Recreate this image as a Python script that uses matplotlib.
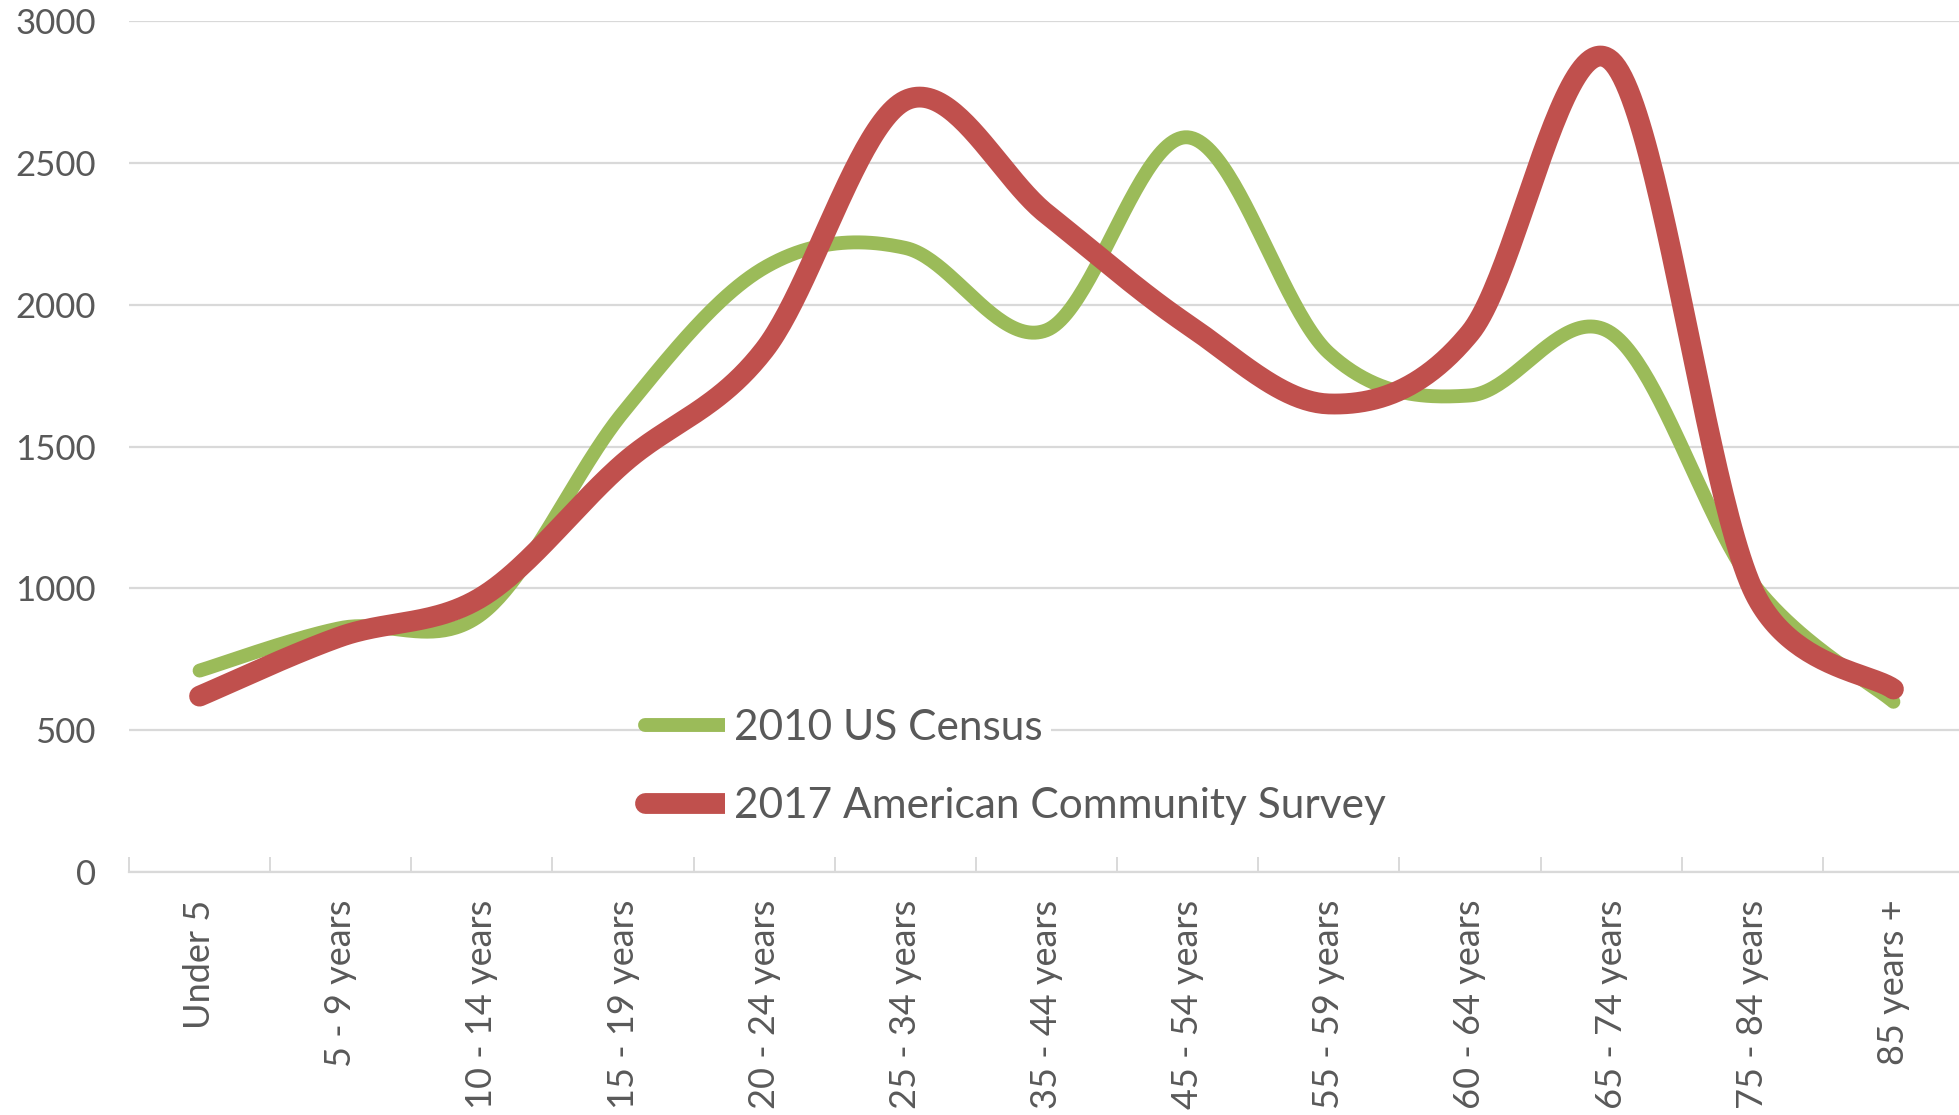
import numpy as np
import matplotlib
matplotlib.use("Agg")
import matplotlib.pyplot as plt
from matplotlib.ticker import FixedLocator

# ---- data ----
categories = ["Under 5", "5 - 9 years", "10 - 14 years", "15 - 19 years",
              "20 - 24 years", "25 - 34 years", "35 - 44 years", "45 - 54 years",
              "55 - 59 years", "60 - 64 years", "65 - 74 years", "75 - 84 years",
              "85 years +"]
census_2010 = [710, 860, 910, 1620, 2130, 2200, 1910, 2590, 1830, 1680, 1900, 1020, 600]
acs_2017 = [620, 830, 970, 1440, 1840, 2720, 2320, 1930, 1650, 1900, 2860, 1000, 645]
series_names = ["2010 US Census", "2017 American Community Survey"]
y_ticks = [0, 500, 1000, 1500, 2000, 2500, 3000]

GREEN = "#9BBB59"
RED = "#C0504D"
TEXT = "#595959"
GRID = "#D9D9D9"

plt.rcParams['font.family'] = ['Lato', 'DejaVu Sans']

W, H = 1959, 1115
left_px, right_px, top_px, bottom_px = 129, 1964, 21, 872
YMAX = 3000
NCAT = len(categories)
SX = (right_px - left_px) / NCAT      # pixels per category
SY = (bottom_px - top_px) / YMAX      # pixels per unit


def smooth(xs, ys, n=50):
    """Excel-like smoothed line: cubic Bezier segments, control points limited
    to half the segment length (computed in screen space)."""
    P = np.column_stack([np.asarray(xs, float) * SX, np.asarray(ys, float) * SY])
    m = len(P)
    t = np.linspace(0, 1, n)[:, None]
    out = []
    for i in range(m - 1):
        p0 = P[i - 1] if i > 0 else P[i]
        p1 = P[i]
        p2 = P[i + 1]
        p3 = P[i + 2] if i + 2 < m else P[i + 1]
        d02 = np.linalg.norm(p2 - p0)
        d12 = np.linalg.norm(p2 - p1)
        d13 = np.linalg.norm(p3 - p1)
        f1 = 1 / 6 if d02 / 6 < d12 / 2 else d12 / (2 * d02)
        f2 = 1 / 6 if d13 / 6 < d12 / 2 else d12 / (2 * d13)
        c1 = p1 + (p2 - p0) * f1
        c2 = p2 - (p3 - p1) * f2
        seg = ((1 - t) ** 3) * p1 + 3 * ((1 - t) ** 2) * t * c1 + 3 * (1 - t) * t ** 2 * c2 + t ** 3 * p2
        out.append(seg if i == 0 else seg[1:])
    arr = np.vstack(out)
    return arr[:, 0] / SX, arr[:, 1] / SY


fig = plt.figure(figsize=(W / 100, H / 100), dpi=100)
ax = fig.add_axes([left_px / W, 1 - bottom_px / H, (right_px - left_px) / W, (bottom_px - top_px) / H])

x = np.arange(NCAT)
gx, gy = smooth(x, census_2010)
rx, ry = smooth(x, acs_2017)
ax.plot(gx, gy, color=GREEN, lw=10, solid_capstyle='round', solid_joinstyle='round',
        label=series_names[0], zorder=3)
ax.plot(rx, ry, color=RED, lw=15, solid_capstyle='round', solid_joinstyle='round',
        label=series_names[1], zorder=4)

ax.set_xlim(-0.5, NCAT - 0.5)
ax.set_ylim(0, YMAX)

ax.set_yticks(y_ticks)
ax.set_yticklabels([str(v) for v in y_ticks])
ax.yaxis.grid(True, color=GRID, lw=1.6)
ax.set_axisbelow(True)

ax.set_xticks(x)
ax.set_xticklabels(categories, rotation=90, va='top', ha='center')
ax.xaxis.set_minor_locator(FixedLocator(np.arange(-0.5, NCAT + 0.5, 1.0)))

ax.tick_params(axis='y', length=0, pad=24, labelsize=25, labelcolor=TEXT)
ax.tick_params(axis='x', which='major', length=0, pad=20, labelsize=26, labelcolor=TEXT)
ax.tick_params(axis='x', which='minor', direction='in', length=11, width=1.4, color=GRID)

for s in ['top', 'right', 'left']:
    ax.spines[s].set_visible(False)
ax.spines['bottom'].set_color(GRID)
ax.spines['bottom'].set_linewidth(1.6)

leg = ax.legend(loc='upper left', bbox_to_anchor=(632 / W, 1 - 696 / H),
                bbox_transform=fig.transFigure, frameon=False, fontsize=30.5,
                handlelength=1.95, handletextpad=0.15, labelspacing=0.95,
                borderpad=0.3, borderaxespad=0)
for t in leg.get_texts():
    t.set_color(TEXT)
    t.set_bbox(dict(facecolor='white', edgecolor='none', pad=6))
for h in leg.get_lines():
    h.set_solid_capstyle('round')

fig.savefig("out.png", dpi=100, facecolor='white')
